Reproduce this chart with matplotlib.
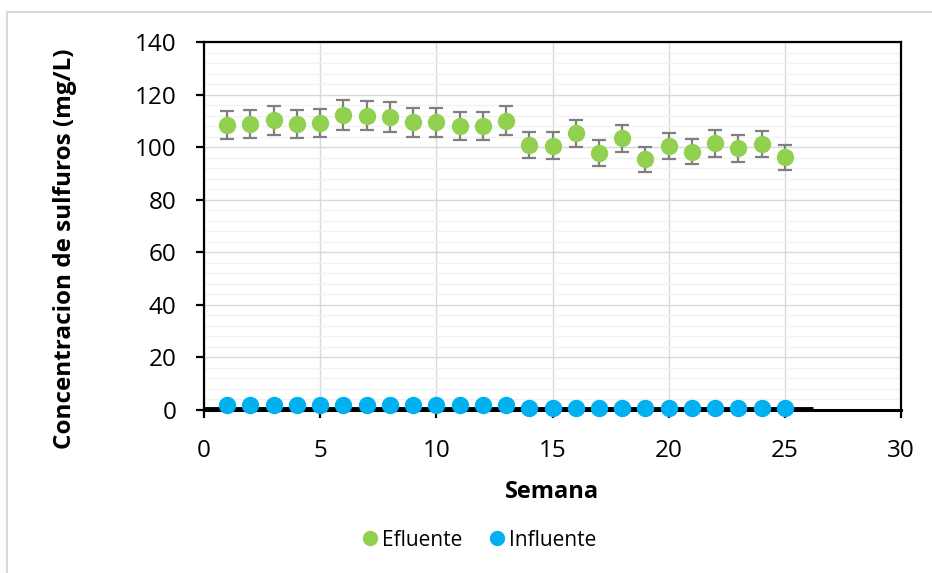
import matplotlib
matplotlib.use("Agg")
import matplotlib.pyplot as plt
from matplotlib.lines import Line2D
from matplotlib.ticker import MultipleLocator

semana = list(range(1, 26))
efluente = [108.4, 108.8, 110.3, 108.8, 109.2, 112.2, 112.0, 111.4, 109.5, 109.5,
            108.0, 108.0, 110.1, 100.8, 100.6, 105.2, 97.9, 103.3, 95.4, 100.4,
            98.3, 101.4, 99.5, 101.2, 96.1]
efluente_err = [5.4, 5.4, 5.5, 5.4, 5.5, 5.6, 5.6, 5.6, 5.5, 5.5,
                5.4, 5.4, 5.5, 5.0, 5.0, 5.3, 4.9, 5.2, 4.8, 5.0,
                4.9, 5.1, 5.0, 5.1, 4.8]
influente = [2.0] * 13 + [0.8] * 12

green = "#92D050"
blue = "#00B0F0"
font = ["Open Sans", "DejaVu Sans"]
plt.rcParams["font.family"] = font

fig = plt.figure(figsize=(9.32, 5.73), dpi=100)
ax = fig.add_axes([204 / 932, 1 - 410 / 573, (901 - 204) / 932, (410 - 42) / 573])

# outer chart-area border
fig.add_artist(Line2D([7 / 932, 1.0], [1 - 12 / 573] * 2, color="#d9d9d9", lw=1.5, transform=fig.transFigure))
fig.add_artist(Line2D([7 / 932] * 2, [0, 1 - 12 / 573], color="#d9d9d9", lw=1.5, transform=fig.transFigure))

ax.set_xlim(0, 30)
ax.set_ylim(0, 140)
ax.xaxis.set_major_locator(MultipleLocator(5))
ax.yaxis.set_major_locator(MultipleLocator(20))
ax.yaxis.set_minor_locator(MultipleLocator(4))
ax.grid(which="major", axis="both", color="#d9d9d9", lw=1.0)
ax.grid(which="minor", axis="y", color="#f2f2f2", lw=1.0)
ax.tick_params(axis="y", which="minor", length=0)
ax.set_axisbelow(True)

for s in ax.spines.values():
    s.set_color("black")
    s.set_linewidth(1.6)
ax.spines["bottom"].set_linewidth(2.2)

# thick baseline under the influent series
ax.plot([0, 26.2], [0.3, 0.3], color="black", lw=3.5, solid_capstyle="butt", zorder=2.5, clip_on=False)

ax.errorbar(semana, efluente, yerr=efluente_err, fmt="o", color=green, ms=11.5,
            ecolor="#7f7f7f", elinewidth=1.6, capsize=5, capthick=1.6, zorder=3, label="Efluente")
ax.plot(semana, influente, "o", color=blue, ms=11.5, zorder=4, label="Influente", clip_on=False)

ax.tick_params(axis="both", which="major", labelsize=17.5, length=6, width=1.6, direction="out")
ax.tick_params(axis="x", pad=15)
ax.tick_params(axis="y", pad=14)
ax.set_xlabel("Semana", fontsize=17, fontweight="bold")
ax.set_ylabel("Concentracion de sulfuros (mg/L)", fontsize=17.5, fontweight="bold")
ax.xaxis.set_label_coords(0.5, -0.19)
ax.yaxis.set_label_coords(-0.182, 0.4375)

handles = [Line2D([], [], marker="o", ls="", color=green, ms=10),
           Line2D([], [], marker="o", ls="", color=blue, ms=10)]
fig.legend(handles, ["Efluente", "Influente"], loc="center", bbox_to_anchor=(478 / 932, 1 - 540 / 573),
           ncol=2, frameon=False, fontsize=15, handletextpad=0.05, columnspacing=1.2, handlelength=1.0)

fig.savefig("out.png", dpi=100)
